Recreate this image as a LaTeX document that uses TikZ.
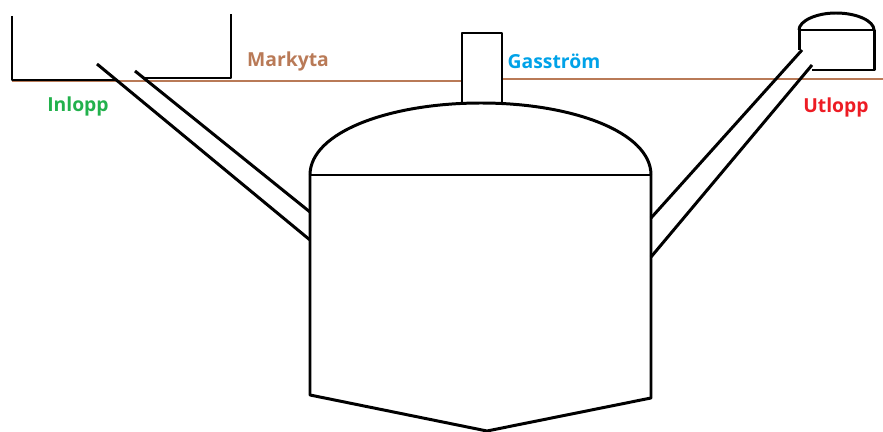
\documentclass[tikz,border=0pt]{standalone}
\usepackage{fontspec}
\setmainfont{Open Sans}
\definecolor{groundbrown}{HTML}{B97A57}
\definecolor{inletgreen}{HTML}{22B14C}
\definecolor{gasblue}{HTML}{00A2E8}
\definecolor{outletred}{HTML}{ED1C24}
\usetikzlibrary{positioning}

\begin{document}
\begin{tikzpicture}[x=0.02cm, y=-0.02cm, line width=1.7pt, line join=round,
  tag/.style={font=\fontsize{11}{13}\selectfont\bfseries}]
\useasboundingbox (0,0) rectangle (883,432);
% ground surface
\draw[groundbrown] (12,81) -- (462,81);
\draw[groundbrown] (502,79) -- (883,79);
% inlet pit
\draw (12,16) -- (12,80) -- (117,80);
\draw (145,78) -- (231,78) -- (231,14);
% inlet pipe
\draw (97,64) -- (310,240);
\draw (135,71) -- (310,212);
% digester with dome and gas pipe
\draw (310,175) .. controls (310,132) and (390,103) .. (481,103)
  .. controls (572,103) and (651,132) .. (651,175);
\draw (310,175) -- (651,175);
\draw (310,175) -- (310,395) -- (487,431) -- (651,398) -- (651,175);
\draw (462,104) -- (462,33) -- (502,33) -- (502,104);
% outlet pipe
\draw (651,218) -- (802,50);
\draw (651,257) -- (812,65);
% outlet tank
\draw (799,50) -- (799,30) -- (874,30) -- (874,70) -- (812,70);
\draw (799,30) .. controls (799,21) and (816,13) .. (836,13)
  .. controls (857,13) and (874,21) .. (874,30);
% labels
\node[tag, text=groundbrown] (markyta) at (288,61) {Markyta};
\node[tag, text=inletgreen] (inlopp) at (78,106) {Inlopp};
\node[tag, text=gasblue] (gas) at (554,61) {Gasström};
\node[tag, text=outletred] (utlopp) at (836,107) {Utlopp};
\end{tikzpicture}
\end{document}
